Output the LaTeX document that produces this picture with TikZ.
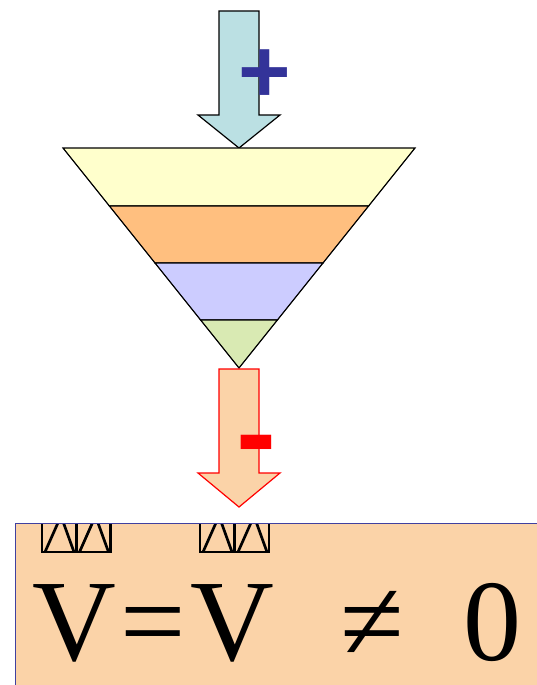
\documentclass[tikz,border=0pt]{standalone}
\usepackage{fontspec}
\setmainfont{Liberation Serif}
\newfontfamily\signfont{Liberation Sans}
\definecolor{inflow}{HTML}{BBE0E3}
\definecolor{layerA}{HTML}{FFFFCC}
\definecolor{layerB}{HTML}{FFBF7F}
\definecolor{layerC}{HTML}{CCCCFF}
\definecolor{layerD}{HTML}{D9EAB3}
\definecolor{outflow}{HTML}{FBD3A8}
\definecolor{plusblue}{HTML}{333399}
\definecolor{frameblue}{HTML}{4040A0}
\tikzset{
  every picture/.style={line join=miter},
  layer/.style={draw=black, line width=1.2pt},
  blockarrow/.style={line width=1.2pt},
  sign/.style={inner sep=0pt, font=\signfont\bfseries},
  eqn/.style={inner sep=0pt, anchor=base, font=\fontsize{116}{116}\selectfont},
  tofu/.style={draw=black, line width=2.7pt, line join=miter},
}
\begin{document}
\begin{tikzpicture}[x=1pt,y=-1pt]
\useasboundingbox (0,0) rectangle (537,685);
% result panel, runs off the page on the right and at the bottom
\draw[draw=frameblue, fill=outflow, line width=1pt] (15,523) rectangle (550,700);
% arrow going in
\draw[blockarrow, fill=inflow] (219,11) -- (259,11) -- (259,115) -- (280,115)
  -- (239,148) coordinate (intip) -- (198,115) -- (219,115) -- cycle;
\node[sign, text=plusblue, font=\signfont\bfseries\fontsize{90}{90}\selectfont] (plus) at (265,76) {+};
% funnel, four layers
\coordinate (apex) at (239,368);
\draw[layer, fill=layerA] (63,148) -- (415,148) -- (368.6,206) -- (109.4,206) -- cycle;
\draw[layer, fill=layerB] (109.4,206) -- (368.6,206) -- (323,263) -- (155,263) -- cycle;
\draw[layer, fill=layerC] (155,263) -- (323,263) -- (277.4,320) -- (200.6,320) -- cycle;
\draw[layer, fill=layerD] (200.6,320) -- (277.4,320) -- (apex) -- cycle;
% arrow coming out
\draw[blockarrow, draw=red, fill=outflow] (219,369) -- (259,369) -- (259,473) -- (280,473)
  -- (239,507) coordinate (outtip) -- (198,473) -- (219,473) -- cycle;
% the hyphen sits high in its box, hence the lower centre
\node[sign, text=red, font=\signfont\bfseries\fontsize{120}{120}\selectfont] (minus) at (256,454.5) {-};
% the vector marks did not render: empty glyph boxes, cut by the panel top
\begin{scope}
\clip (15,524) rectangle (537,685);
\foreach \gx in {42,76.5,200,235}{
  \draw[tofu] (\gx,505) rectangle (\gx+34,552);
  \draw[tofu] (\gx+3,552) -- (\gx+19,516) -- (\gx+32,552);
}
\end{scope}
\node[eqn] (v1) at (74.5,660) {V};
\node[eqn] (eq) at (153.5,660) {=};
\node[eqn] (v2) at (232.5,660) {V};
\node[eqn] (ne) at (372.5,660) {≠};
\node[eqn] (zero) at (492,660) {0};
\end{tikzpicture}
\end{document}
